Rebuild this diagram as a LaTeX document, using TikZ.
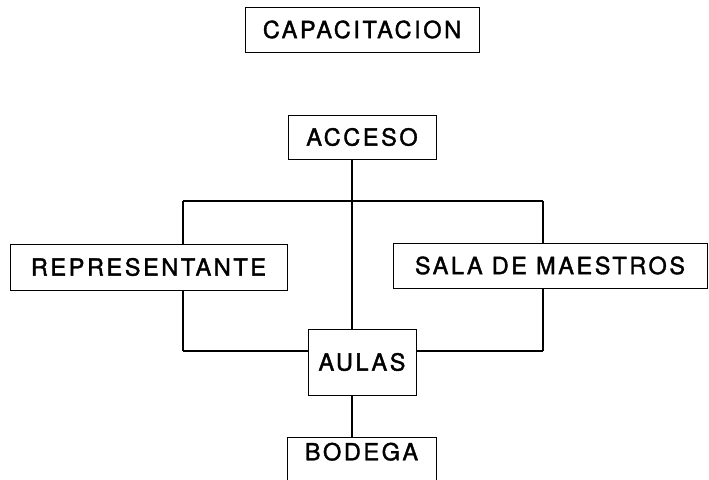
\documentclass[tikz,border=0pt]{standalone}
\usepackage{fontspec}
\setmainfont{TeX Gyre Heros}[LetterSpace=11, FakeBold=1.6]
\begin{document}
\begin{tikzpicture}[x=1pt,y=-1pt,
  box/.style={draw=black, line width=1pt, fill=white, rectangle, inner sep=0pt,
    font=\fontsize{23.5}{26}\selectfont, text=black},
  link/.style={draw=black, line width=1.8pt},
  side/.style={draw=black, line width=1.3pt}]
\useasboundingbox (0,0) rectangle (709,479);
\clip (0,0) rectangle (709,479);
\coordinate (cx) at (352,0);
\coordinate (lx) at (183,0);
\coordinate (rx) at (543,0);
\coordinate (ty) at (0,201);
\coordinate (by) at (0,351);
\coordinate (tl) at (lx |- ty);
\coordinate (tr) at (rx |- ty);
\coordinate (bl) at (lx |- by);
\coordinate (br) at (rx |- by);
\node[box, minimum width=234pt, minimum height=45pt] (cap) at (362,29.5) {CAPACITACION};
\node[box, minimum width=148pt, minimum height=44pt] (acc) at (362,137) {ACCESO};
\node[box, minimum width=108pt, minimum height=66pt] (aul) at (362,362) {AULAS};
\node[box, minimum width=149pt, minimum height=60pt, text depth=0pt] (bod) at (361.5,467) {\raisebox{31pt}{BODEGA}};
\draw[link] (acc.south -| cx) -- (aul.north -| cx);
\draw[link] (tl) -- (tr);
\draw[side] (tl) -- (bl);
\draw[side] (tr) -- (br);
\draw[link] (bl) -- (aul.west |- by);
\draw[link] (aul.east |- by) -- (br);
\draw[link] (aul.south -| cx) -- (bod.north -| cx);
\node[box, minimum width=277pt, minimum height=46pt] (rep) at (148.5,267) {REPRESENTANTE};
\node[box, minimum width=314pt, minimum height=45pt] (sala) at (550,265.5) {SALA DE MAESTROS};
\end{tikzpicture}
\end{document}
